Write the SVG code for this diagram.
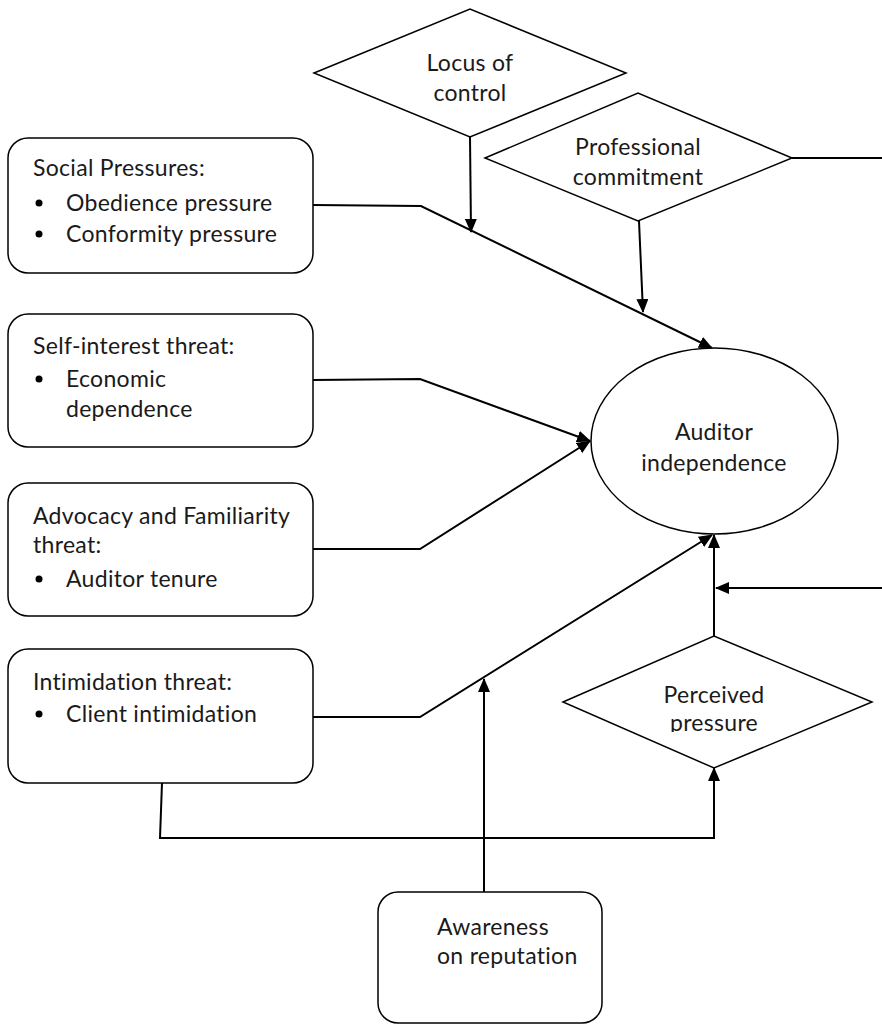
<svg xmlns="http://www.w3.org/2000/svg" width="882" height="1025" viewBox="0 0 882 1025">
<style>
.shape{fill:#fff;stroke:#000;stroke-width:1.5}
.t{font-family:Lato,"Open Sans","Liberation Sans",sans-serif;font-size:23px;letter-spacing:0.3px;fill:#1a1a1a}
.c{text-anchor:middle}
.con{fill:none;stroke:#000;stroke-width:2}
</style>
<defs>
<marker id="arr" markerUnits="userSpaceOnUse" markerWidth="14" markerHeight="12" refX="13" refY="6" orient="auto">
<path d="M0,0 L14,6 L0,12 Z" fill="#000"/>
</marker>
<clipPath id="clipP"><rect x="560" y="640" width="320" height="92"/></clipPath>
</defs>

<g id="connectors">
<path class="con" d="M313,205 L421,206 L712,348" marker-end="url(#arr)"/>
<path class="con" d="M470,137 L471,232" marker-end="url(#arr)"/>
<path class="con" d="M639,221 L643,312" marker-end="url(#arr)"/>
<path class="con" d="M792,158 L882,158"/>
<path class="con" d="M313,380 L420,379 L590,441" marker-end="url(#arr)"/>
<path class="con" d="M313,549 L420,549 L590,441" marker-end="url(#arr)"/>
<path class="con" d="M313,717 L420,717 L712,535" marker-end="url(#arr)"/>
<path class="con" d="M484,892 L484,679" marker-end="url(#arr)"/>
<path class="con" d="M714,636 L714,535" marker-end="url(#arr)"/>
<path class="con" d="M882,588 L716,588" marker-end="url(#arr)"/>
<path class="con" d="M162,783 L160,838 L714,838 L714,768" marker-end="url(#arr)"/>
</g>

<g id="locus">
<polygon class="shape" points="314,73 470,9 626,73 470,137"/>
<text class="t c" x="470" y="71">Locus of</text>
<text class="t c" x="470" y="101">control</text>
</g>

<g id="professional">
<polygon class="shape" points="485,158 638,93 792,158 638,221"/>
<text class="t c" x="638" y="155">Professional</text>
<text class="t c" x="638" y="185">commitment</text>
</g>

<g id="social">
<rect class="shape" x="8" y="138" width="305" height="135" rx="20"/>
<text class="t" x="33" y="176">Social Pressures:</text>
<circle cx="39" cy="203" r="3.5" fill="#000"/>
<text class="t" x="66" y="211">Obedience pressure</text>
<circle cx="39" cy="234" r="3.5" fill="#000"/>
<text class="t" x="66" y="242">Conformity pressure</text>
</g>

<g id="selfinterest">
<rect class="shape" x="8" y="314" width="305" height="133" rx="20"/>
<text class="t" x="33" y="354">Self-interest threat:</text>
<circle cx="39" cy="379" r="3.5" fill="#000"/>
<text class="t" x="66" y="387">Economic</text>
<text class="t" x="66" y="417">dependence</text>
</g>

<g id="advocacy">
<rect class="shape" x="8" y="483" width="305" height="133" rx="20"/>
<text class="t" x="33" y="524">Advocacy and Familiarity</text>
<text class="t" x="33" y="553">threat:</text>
<circle cx="39" cy="579" r="3.5" fill="#000"/>
<text class="t" x="66" y="587">Auditor tenure</text>
</g>

<g id="intimidation">
<rect class="shape" x="8" y="649" width="305" height="134" rx="20"/>
<text class="t" x="33" y="690">Intimidation threat:</text>
<circle cx="39" cy="714" r="3.5" fill="#000"/>
<text class="t" x="66" y="722">Client intimidation</text>
</g>

<g id="auditor">
<ellipse class="shape" cx="714.5" cy="441" rx="123.5" ry="93"/>
<text class="t c" x="714" y="440">Auditor</text>
<text class="t c" x="714" y="471">independence</text>
</g>

<g id="perceived">
<polygon class="shape" points="563,702 714,636 872,702 714,768"/>
<text class="t c" x="714" y="703">Perceived</text>
<text class="t c" x="714" y="731" clip-path="url(#clipP)">pressure</text>
</g>

<g id="awareness">
<rect class="shape" x="378" y="892" width="224" height="131" rx="20"/>
<text class="t" x="437" y="935">Awareness</text>
<text class="t" x="437" y="964">on reputation</text>
</g>
</svg>
